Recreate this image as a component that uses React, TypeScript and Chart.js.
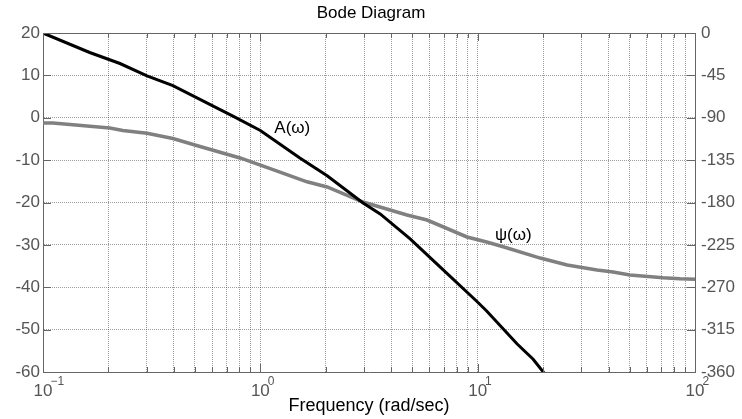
import React, { useEffect, useRef } from "react";
import { Chart, registerables } from "chart.js";

Chart.register(...registerables);

const TITLE = "Bode Diagram";
const X_TITLE = "Frequency (rad/sec)";
const X_DECADES = [0.1, 1, 10, 100];
const X_MINOR_STEPS = [2, 3, 4, 5, 6, 7, 8, 9];
const MAG_TICKS = [20, 10, 0, -10, -20, -30, -40, -50, -60];
const PHASE_TICKS = [0, -45, -90, -135, -180, -225, -270, -315, -360];

const MAG_LABEL = "A(ω)";
const PHASE_LABEL = "ψ(ω)";

// Magnitude A(ω), dB (left axis)
const magFreq = [0.1, 0.164, 0.226, 0.301, 0.396, 0.748, 1.0, 1.52, 2.03, 2.97, 3.56, 4.89, 6.71, 9.9, 11.0, 15.2, 18.0, 20.4];
const magDb = [20, 15.4, 12.8, 9.9, 7.6, 0.4, -3.0, -9.5, -13.7, -20.1, -22.7, -28.6, -35.2, -43.3, -45.6, -53.4, -57, -60.5];

// Phase ψ(ω), degrees (right axis)
const phFreq = [0.1, 0.111, 0.203, 0.233, 0.301, 0.396, 0.528, 0.807, 1.144, 1.64, 2.03, 2.97, 4.73, 5.85, 8.93, 11.0, 13.1, 19.4, 25.8, 35.4, 42.0, 50.2, 71.3, 85.3, 100];
const phDeg = [-95.5, -95.6, -101, -103.5, -106.5, -112, -120.5, -132.7, -145, -158, -163.5, -179.5, -193.3, -198.6, -216.6, -222, -227, -239, -246.4, -251.7, -253.8, -257, -260, -261, -261.5];

const FONT = "'Liberation Sans', Arial, Helvetica, sans-serif";
const AXIS_COLOR = "#666666";
const TICK_TEXT = "#555555";

function xTickValues(): number[] {
  const vals: number[] = [];
  X_DECADES.forEach((d, i) => {
    vals.push(d);
    if (i < X_DECADES.length - 1) X_MINOR_STEPS.forEach((m) => vals.push(+(d * m).toPrecision(6)));
  });
  return vals;
}

const decorPlugin = {
  id: "decor",
  afterDatasetsDraw(chart: any) {
    const { ctx, chartArea } = chart;
    const { left, right, top, bottom } = chartArea;
    const xs = chart.scales.x;
    const ys = chart.scales.y;
    const y1 = chart.scales.y1;
    ctx.save();
    ctx.strokeStyle = AXIS_COLOR;
    ctx.lineWidth = 1;
    ctx.setLineDash([]);
    ctx.beginPath();
    ctx.moveTo(left, top + 0.5);
    ctx.lineTo(right, top + 0.5);
    ctx.stroke();
    ctx.beginPath();
    xs.ticks.forEach((t: any) => {
      const px = Math.round(xs.getPixelForValue(t.value)) + 0.5;
      const len = t.major ? 8 : 5;
      ctx.moveTo(px, bottom);
      ctx.lineTo(px, bottom - len);
      ctx.moveTo(px, top);
      ctx.lineTo(px, top + len);
    });
    ys.ticks.forEach((t: any) => {
      const py = Math.round(ys.getPixelForValue(t.value)) + 0.5;
      ctx.moveTo(left, py);
      ctx.lineTo(left + 8, py);
    });
    y1.ticks.forEach((t: any) => {
      const py = Math.round(y1.getPixelForValue(t.value)) + 0.5;
      ctx.moveTo(right, py);
      ctx.lineTo(right - 8, py);
    });
    ctx.stroke();

    ctx.fillStyle = "#000";
    ctx.font = `17px ${FONT}`;
    ctx.textAlign = "left";
    ctx.textBaseline = "middle";
    ctx.fillText(MAG_LABEL, xs.getPixelForValue(1.16), ys.getPixelForValue(-2.6));
    ctx.fillText(PHASE_LABEL, xs.getPixelForValue(12.0), y1.getPixelForValue(-214.5));
    ctx.restore();
  },
  afterDraw(chart: any) {
    const { ctx } = chart;
    const xs = chart.scales.x;
    ctx.save();
    ctx.font = `17px ${FONT}`;
    const w = ctx.measureText("10").width;
    ctx.font = `12px ${FONT}`;
    ctx.fillStyle = TICK_TEXT;
    ctx.textAlign = "left";
    ctx.textBaseline = "middle";
    X_DECADES.forEach((d) => {
      const exp = Math.round(Math.log10(d));
      const px = xs.getPixelForValue(d);
      ctx.fillText(String(exp).replace("-", "\u2212"), px + w / 2 - 2, xs.top + 10);
    });
    ctx.restore();
  },
};

export default function App() {
  const ref = useRef<HTMLCanvasElement | null>(null);
  useEffect(() => {
    if (!ref.current) return;
    Chart.defaults.font.family = FONT;
    const chart = new Chart(ref.current, {
      type: "line",
      data: {
        datasets: [
          {
            label: MAG_LABEL,
            data: magFreq.map((f, i) => ({ x: f, y: magDb[i] })),
            borderColor: "#000000",
            borderWidth: 3,
            pointRadius: 0,
            tension: 0,
            yAxisID: "y",
          },
          {
            label: PHASE_LABEL,
            data: phFreq.map((f, i) => ({ x: f, y: phDeg[i] })),
            borderColor: "#808080",
            borderWidth: 3.5,
            pointRadius: 0,
            tension: 0,
            yAxisID: "y1",
          },
        ],
      },
      options: {
        responsive: false,
        animation: false,
        devicePixelRatio: 1,
        layout: { padding: 0 },
        plugins: {
          legend: { display: false },
          tooltip: { enabled: false },
          title: {
            display: true,
            text: TITLE,
            color: "#000",
            font: { size: 17, weight: "normal", family: FONT },
            padding: { top: 3, bottom: 9.6 },
          },
        },
        scales: {
          x: {
            type: "logarithmic",
            min: 0.1,
            max: 100,
            afterBuildTicks: (scale: any) => {
              scale.ticks = xTickValues().map((v) => ({ value: v, major: X_DECADES.includes(v) }));
            },
            afterFit: (scale: any) => {
              scale.height = 47;
            },
            ticks: {
              autoSkip: false,
              maxRotation: 0,
              minRotation: 0,
              padding: 9,
              color: TICK_TEXT,
              font: { size: 17, family: FONT },
              callback: (v: any) => (X_DECADES.includes(Number(v)) ? "10" : ""),
            },
            grid: { color: "rgba(0,0,0,0.38)", lineWidth: 1, drawTicks: false },
            border: { display: true, color: AXIS_COLOR, width: 1, dash: [1, 1] },
            title: {
              display: true,
              text: X_TITLE,
              color: "#000",
              font: { size: 18, family: FONT },
              padding: { top: 0, bottom: 2 },
            },
          },
          y: {
            type: "linear",
            position: "left",
            min: -60,
            max: 20,
            afterBuildTicks: (scale: any) => {
              scale.ticks = MAG_TICKS.map((v) => ({ value: v }));
            },
            afterFit: (scale: any) => {
              scale.width = 43;
            },
            ticks: {
              padding: 3,
              color: TICK_TEXT,
              font: { size: 17, family: FONT },
            },
            grid: { color: "rgba(0,0,0,0.38)", lineWidth: 1, drawTicks: false },
            border: { display: true, color: AXIS_COLOR, width: 1, dash: [1, 1] },
          },
          y1: {
            type: "linear",
            position: "right",
            min: -360,
            max: 0,
            afterBuildTicks: (scale: any) => {
              scale.ticks = PHASE_TICKS.map((v) => ({ value: v }));
            },
            afterFit: (scale: any) => {
              scale.width = 47;
            },
            ticks: {
              padding: 6,
              color: TICK_TEXT,
              font: { size: 17, family: FONT },
            },
            grid: { display: false, drawTicks: false },
            border: { display: true, color: AXIS_COLOR, width: 1 },
          },
        },
      },
      plugins: [decorPlugin],
    } as any);
    return () => chart.destroy();
  }, []);

  return (
    <div style={{ position: "absolute", left: 0, top: 0, width: 742, height: 419, background: "#fff" }}>
      <canvas ref={ref} width={742} height={419} />
    </div>
  );
}
